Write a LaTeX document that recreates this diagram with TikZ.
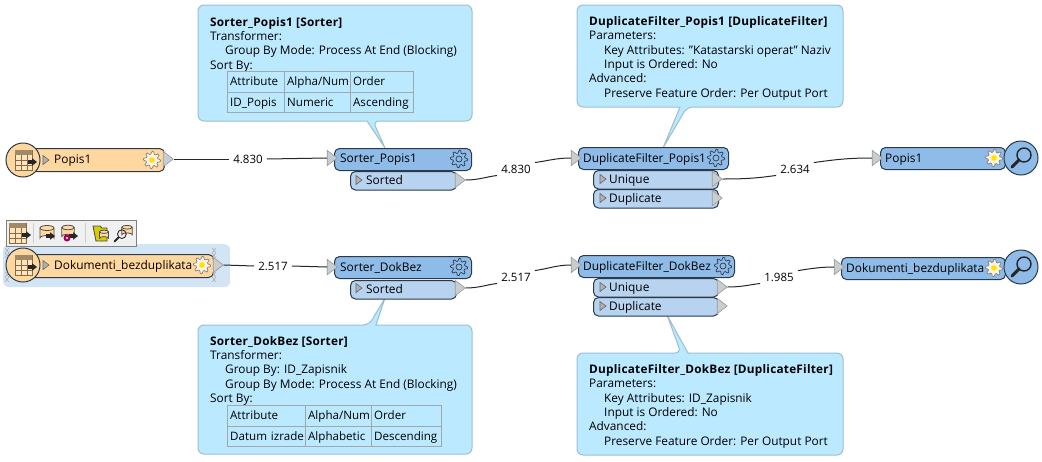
\documentclass[tikz,border=0pt]{standalone}
\usepackage{fontspec}
\setmainfont{Open Sans}
\newfontfamily\headfont[LetterSpace=2]{Open Sans}
\usetikzlibrary{shapes.geometric}
\definecolor{readerfill}{HTML}{FFD8A0}
\definecolor{xformfill}{HTML}{8FBBE8}
\definecolor{portfill}{HTML}{B7D3F0}
\definecolor{notefill}{HTML}{BBE9FF}
\definecolor{noteline}{HTML}{9DBFD0}
\definecolor{selectfill}{HTML}{D3E4F5}
\definecolor{darkline}{HTML}{2B3A4A}
\definecolor{tipfill}{HTML}{C8CDD0}
\definecolor{iconline}{HTML}{8A6A40}
\definecolor{cellline}{HTML}{A0A8AC}
\newcommand{\notehead}[1]{{\headfont\bfseries\fontsize{11.8}{14.2}\selectfont #1}}

\begin{document}
\begin{tikzpicture}
    [x=1pt,y=-1pt,
    txt/.style={font=\fontsize{11.9}{14.2}\selectfont,inner sep=0pt,anchor=west,text height=9.5pt,text depth=1.5pt},
    note text/.style={font=\fontsize{11.85}{14.3}\selectfont,inner sep=0pt,anchor=north west,align=left},
    note/.style={draw=noteline,fill=notefill,line width=1pt,rounded corners=6pt},
    cell/.style={draw=cellline,line width=1.3pt,font=\fontsize{11.6}{13}\selectfont,inner xsep=2.5pt,
        inner ysep=0pt,minimum height=20.5pt,anchor=north west,text width=#1-5pt,align=left,
        text height=9.5pt,text depth=1.5pt},
    block/.style={draw=darkline,line width=1pt,rounded corners=5pt,anchor=north west,
        inner sep=0pt,minimum width=#1},
    reader/.style={block=#1,fill=readerfill,minimum height=23pt},
    xform/.style={block=#1,fill=xformfill,minimum height=22pt},
    outport/.style={block=#1,fill=portfill,minimum height=18.5pt},
    tip/.style={shape=isosceles triangle,isosceles triangle apex angle=75,draw=gray!80,fill=tipfill,
        line width=.6pt,inner sep=0pt,minimum height=10pt,minimum width=13pt},
    lens/.style={shape=circle,draw=darkline,line width=1pt,minimum size=34pt,inner sep=0pt},
    count/.style={font=\fontsize{11.5}{13}\selectfont,inner xsep=4pt,inner ysep=2pt},
    flow/.style={draw=black!85,line width=1pt},
    pics/gear/.style 2 args={code={
        \draw[draw=#1,fill=#2,line width=.7pt,line join=round]
            plot[samples at={0,11.25,...,348.75}] (\x:{mod(\x,45)<15?8.5:6}) -- cycle;
        \draw[draw=#1,fill=#2,line width=.7pt] (0,0) circle (3);
    }},
    pics/suncog/.style={code={
        \draw[draw=gray,fill=white!70!readerfill,line width=.7pt,line join=round]
            plot[samples at={0,11.25,...,348.75}] (\x:{mod(\x,45)<15?8.5:6}) -- cycle;
        \fill[yellow!85!orange] (0,0) circle (2.8);
    }},
    pics/play/.style={code={
        \draw[draw=gray!80!black,fill=gray!60,line width=.6pt] (0,-4.5) -- (6,0) -- (0,4.5) -- cycle;
    }},
    pics/arrowhead/.style={code={
        \fill[black!85] (0,-1.8) -- (4,-1.8) -- (4,-3.8) -- (9,0) -- (4,3.8) -- (4,1.8) -- (0,1.8) -- cycle;
    }},
    pics/sheet/.style={code={
        \draw[draw=iconline,fill=readerfill!70,line width=.8pt] (-8,-10) rectangle (9,10);
        \fill[iconline!80] (-8,-10) rectangle (9,-5);
        \foreach \gx in {-2,4} \draw[iconline,line width=.7pt] (\gx,-5) -- (\gx,10);
        \foreach \gy in {0,5} \draw[iconline,line width=.7pt] (-8,\gy) -- (9,\gy);
        \pic at (5,2) {arrowhead};
    }},
    pics/can/.style={code={
        \draw[draw=black!70,fill=readerfill,line width=.8pt] (-7,-5) -- (-7,5) arc[start angle=180,end angle=360,x radius=7,y radius=2.5] -- (7,-5);
        \draw[draw=black!70,fill=readerfill,line width=.8pt] (0,-5) ellipse (7 and 2.5);
    }},
    pics/glass/.style={code={
        \draw[black!85,line width=#1*3pt,line cap=round] (-2*#1,2*#1) -- (-9*#1,9*#1);
        \draw[black!85,line width=#1*1.4pt] (3*#1,-3*#1) circle (7*#1);
    }}]

%draw selection and toolbar
\node[draw=none,fill=selectfill,rounded corners=6pt,minimum width=227pt,minimum height=43pt,anchor=north west,inner sep=0pt] (selectBand) at (3,244) {};
\node[draw=gray,fill=gray!12,line width=1pt,minimum width=130pt,minimum height=26pt,anchor=north west,inner sep=0pt] (toolBar) at (6,220) {};
\draw[gray!40,line width=1pt] (33,223) -- (33,243);
\draw[gray!40,line width=1pt] (85,223) -- (85,243);
\begin{scope}[shift={(17,233)},scale=.72]
    \pic {sheet};
\end{scope}
\pic at (47,233) {can};
\pic at (46,236) {arrowhead};
\pic at (68,232) [scale=.9] {can};
\pic at (69,236) {arrowhead};
\fill[violet!70!red] (67,238) circle (3.5);
\fill[white] (67,238) circle (1.2);
\draw[draw=black!70,fill=yellow!65!olive,line width=.8pt] (93,226) -- (100,226) -- (102,228) -- (107,228) -- (107,241) -- (96,241) -- cycle;
\pic at (104,235) [scale=.65] {can};
\pic at (127,231) [scale=.75] {can};
\pic at (120,236) {glass=.62};

%draw callouts
\draw[note] (198,5) -- (472,5) -- (472,121) -- (373,121) [sharp corners] -- (385,148) -- (367,121) [rounded corners=6pt] -- (198,121) -- cycle;
\draw[note] (198,325) -- (369,325) [sharp corners] -- (385,298) -- (376,325) [rounded corners=6pt] -- (472,325) -- (472,454) -- (198,454) -- cycle;
\draw[note] (577,5) -- (843,5) -- (843,107) -- (687,107) [sharp corners] -- (663,148) -- (680,107) [rounded corners=6pt] -- (577,107) -- cycle;
\draw[note] (577,353) -- (681,353) [sharp corners] -- (667,315) -- (688,353) [rounded corners=6pt] -- (843,353) -- (843,455) -- (577,455) -- cycle;

\node[note text] (noteSorterPopis) at (210,17) {\notehead{Sorter\_Popis1 [Sorter]}\\Transformer:\\\hspace*{15pt}Group By Mode: Process At End (Blocking)\\Sort By:};
\node[note text] (noteSorterDokBez) at (210,336) {\notehead{Sorter\_DokBez [Sorter]}\\Transformer:\\\hspace*{15pt}Group By: ID\_Zapisnik\\\hspace*{15pt}Group By Mode: Process At End (Blocking)\\Sort By:};
\node[note text] (noteFilterPopis) at (589,16.5) {\notehead{DuplicateFilter\_Popis1 [DuplicateFilter]}\\Parameters:\\\hspace*{15pt}Key Attributes: "Katastarski operat" Naziv\\\hspace*{15pt}Input is Ordered: No\\Advanced:\\\hspace*{15pt}Preserve Feature Order: Per Output Port};
\node[note text] (noteFilterDokBez) at (589,364.5) {\notehead{DuplicateFilter\_DokBez [DuplicateFilter]}\\Parameters:\\\hspace*{15pt}Key Attributes: ID\_Zapisnik\\\hspace*{15pt}Input is Ordered: No\\Advanced:\\\hspace*{15pt}Preserve Feature Order: Per Output Port};

%draw sort tables
\node[cell=57pt] (popisHeadA) at (227,71) {Attribute};
\node[cell=66pt] (popisHeadB) at (284,71) {Alpha/Num};
\node[cell=63pt] (popisHeadC) at (350,71) {Order};
\node[cell=57pt] (popisRowA) at (227,91.5) {ID\_Popis};
\node[cell=66pt] (popisRowB) at (284,91.5) {Numeric};
\node[cell=63pt] (popisRowC) at (350,91.5) {Ascending};
\node[cell=78pt] (dokHeadA) at (227,405) {Attribute};
\node[cell=66pt] (dokHeadB) at (305,405) {Alpha/Num};
\node[cell=70pt] (dokHeadC) at (371,405) {Order};
\node[cell=78pt] (dokRowA) at (227,425.5) {\mbox{Datum izrade}};
\node[cell=66pt] (dokRowB) at (305,425.5) {Alphabetic};
\node[cell=70pt] (dokRowC) at (371,425.5) {Descending};

%draw first row
\node[reader=141pt] (readerPopis) at (23,148) {};
\node[lens,fill=readerfill] (readerPopisIcon) at (23,160) {};
\pic at (23,160) {sheet};
\pic at (43,160) {play};
\node[txt] (readerPopisText) at (54,159.5) {Popis1};
\pic at (152,160) {suncog};
\node[tip] (readerPopisOut) at (167,159) {};

\node[xform=137pt] (sorterPopis) at (334,148) {};
\node[txt] (sorterPopisText) at (340,158.5) {Sorter\_Popis1};
\pic at (459,159) {gear={darkline}{xformfill}};
\node[tip] (sorterPopisIn) at (331,158) {};
\node[outport=106pt] (sortedPopis) at (350,171) {};
\pic at (356,180) {play};
\node[txt] (sortedPopisText) at (366,180) {Sorted};
\node[tip] (sortedPopisOut) at (459,180) {};

\node[xform=150pt] (filterPopis) at (578,147) {};
\node[txt] (filterPopisText) at (583,158) {DuplicateFilter\_Popis1};
\pic at (716,158) {gear={darkline}{xformfill}};
\node[tip] (filterPopisIn) at (575,158) {};
\node[outport=125pt] (uniquePopis) at (593,170) {};
\pic at (600,179) {play};
\node[txt] (uniquePopisText) at (609,179) {Unique};
\node[tip] (uniquePopisOut) at (716,179) {};
\node[outport=125pt] (duplPopis) at (593,189) {};
\pic at (600,198) {play};
\node[txt] (duplPopisText) at (609,198) {Duplicate};
\node[tip] (duplPopisOut) at (716,198) {};

\node[xform=125pt] (inspectPopis) at (880,147) {};
\node[txt] (inspectPopisText) at (885,158) {Popis1};
\pic at (994,158) {suncog};
\node[lens,fill=xformfill] (inspectPopisIcon) at (1021,158) {};
\pic at (1021,158) {glass=1};
\node[tip] (inspectPopisIn) at (876,158) {};

%draw second row
\node[reader=190pt] (readerDokBez) at (23,254) {};
\node[lens,fill=readerfill] (readerDokBezIcon) at (23,265) {};
\pic at (23,265) {sheet};
\pic at (43,265) {play};
\node[txt] (readerDokBezText) at (54,265) {Dokumenti\_bezduplikata};
\pic at (202,265) {suncog};
\node[tip] (readerDokBezOut) at (217,265) {};
\foreach \hx/\hy in {7/253,7/277,214/253,214/277}
    \draw[gray!60,line width=.6pt] (\hx-2,\hy-5) -- (\hx+2,\hy) -- (\hx-2,\hy+5) (\hx+2,\hy-5) -- (\hx-2,\hy) -- (\hx+2,\hy+5);

\node[xform=137pt] (sorterDokBez) at (334,256) {};
\node[txt] (sorterDokBezText) at (340,267) {Sorter\_DokBez};
\pic at (459,267) {gear={darkline}{xformfill}};
\node[tip] (sorterDokBezIn) at (331,267) {};
\node[outport=106pt] (sortedDokBez) at (350,280) {};
\pic at (356,288) {play};
\node[txt] (sortedDokBezText) at (366,289) {Sorted};
\node[tip] (sortedDokBezOut) at (459,288) {};

\node[xform=156pt] (filterDokBez) at (578,255) {};
\node[txt] (filterDokBezText) at (583,266) {DuplicateFilter\_DokBez};
\pic at (723,266) {gear={darkline}{xformfill}};
\node[tip] (filterDokBezIn) at (575,265) {};
\node[outport=125pt] (uniqueDokBez) at (593,278) {};
\pic at (600,287) {play};
\node[txt] (uniqueDokBezText) at (609,287) {Unique};
\node[tip] (uniqueDokBezOut) at (721,287) {};
\node[outport=125pt] (duplDokBez) at (593,297) {};
\pic at (600,306) {play};
\node[txt] (duplDokBezText) at (609,306) {Duplicate};
\node[tip] (duplDokBezOut) at (721,306) {};

\node[xform=164pt] (inspectDokBez) at (841,257) {};
\node[txt] (inspectDokBezText) at (846,268) {Dokumenti\_bezduplikata};
\pic at (994,268) {suncog};
\node[lens,fill=xformfill] (inspectDokBezIcon) at (1021,267) {};
\pic at (1021,267) {glass=1};
\node[tip] (inspectDokBezIn) at (838,267) {};

%draw connectors with feature counts
\node[count] (countA) at (248,159) {4.830};
\node[count] (countB) at (516,169) {4.830};
\node[count] (countC) at (795,169) {2.634};
\node[count] (countD) at (273,266) {2.517};
\node[count] (countE) at (516,277) {2.517};
\node[count] (countF) at (779,277) {1.985};

\draw[flow] (readerPopisOut.apex) -- (countA.west);
\draw[flow] (countA.east) -- (sorterPopisIn.west);
\draw[flow] (sortedPopisOut.apex) to[out=0,in=188] (countB.south west);
\draw[flow] (countB.north east) to[out=8,in=180] (filterPopisIn.west);
\draw[flow] (uniquePopisOut.apex) to[out=0,in=188] (countC.south west);
\draw[flow] (countC.north east) to[out=8,in=180] (inspectPopisIn.west);
\draw[flow] (readerDokBezOut.apex) -- (countD.west);
\draw[flow] (countD.east) -- (sorterDokBezIn.west);
\draw[flow] (sortedDokBezOut.apex) to[out=0,in=188] (countE.south west);
\draw[flow] (countE.north east) to[out=8,in=180] (filterDokBezIn.west);
\draw[flow] (uniqueDokBezOut.apex) to[out=0,in=188] (countF.south west);
\draw[flow] (countF.north east) to[out=8,in=180] (inspectDokBezIn.west);

\useasboundingbox (0,0) rectangle (1042,461);
\end{tikzpicture}
\end{document}
